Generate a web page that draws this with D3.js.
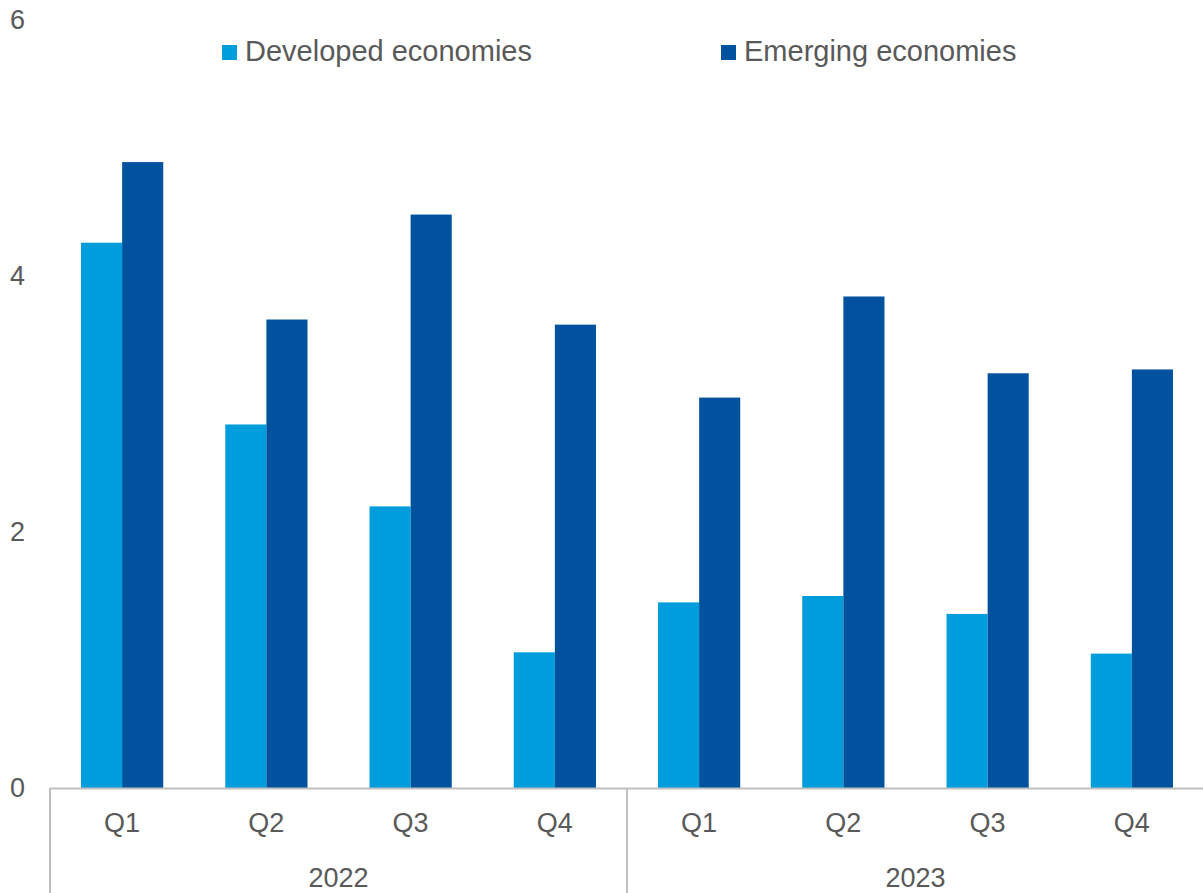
<!DOCTYPE html>
<html>
<head>
<meta charset="utf-8">
<script src="https://cdn.jsdelivr.net/npm/d3@7"></script>
<style>
  html, body { margin: 0; padding: 0; background: #ffffff; }
  svg { display: block; font-family: "Liberation Sans", Arial, sans-serif; }
</style>
</head>
<body>
<svg id="chart" width="1203" height="893"></svg>
<script>
// Quarterly values for each year
const years = ["2022", "2023"];
const quarters = ["Q1", "Q2", "Q3", "Q4"];
const seriesNames = ["Developed economies", "Emerging economies"];
const developed = [4.26, 2.84, 2.20, 1.06, 1.45, 1.50, 1.36, 1.05];
const emerging  = [4.89, 3.66, 4.48, 3.62, 3.05, 3.84, 3.24, 3.27];
const yTicks = [0, 2, 4, 6];
const colors = ["#009ddc", "#00529f"];

const textColor = "#595959";
const axisColor = "#bfbfbf";

// One row per year-quarter
const rows = [];
years.forEach((yr, yi) => quarters.forEach((q, qi) => {
  const i = yi * quarters.length + qi;
  rows.push({ key: yr + "-" + q, year: yr, quarter: q, values: [developed[i], emerging[i]] });
}));

const svg = d3.select("#chart");
const plotLeft = 50, plotRight = 1204, plotTop = 20, plotBottom = 788;

const x = d3.scaleBand()
  .domain(rows.map(d => d.key))
  .range([plotLeft, plotRight])
  .paddingInner(0.43)
  .paddingOuter(0.215);

const xs = d3.scaleBand()
  .domain(d3.range(seriesNames.length))
  .range([0, x.bandwidth()]);

const y = d3.scaleLinear().domain([0, 6]).range([plotBottom, plotTop]);

// Bars
const groups = svg.append("g").selectAll("g")
  .data(rows).join("g")
  .attr("transform", d => `translate(${x(d.key)},0)`);

groups.selectAll("rect")
  .data(d => d.values.map((v, i) => ({ v, i })))
  .join("rect")
  .attr("x", d => xs(d.i))
  .attr("width", xs.bandwidth())
  .attr("y", d => y(d.v))
  .attr("height", d => y(0) - y(d.v))
  .attr("fill", d => colors[d.i]);

// Y axis labels (no axis line)
svg.append("g").selectAll("text")
  .data(yTicks).join("text")
  .attr("x", 25)
  .attr("y", d => y(d))
  .attr("dy", "0.35em")
  .attr("text-anchor", "end")
  .attr("font-size", 27)
  .attr("fill", textColor)
  .text(d => d);

// X axis baseline
svg.append("line")
  .attr("x1", plotLeft).attr("x2", plotRight)
  .attr("y1", y(0) + 0.5).attr("y2", y(0) + 0.5)
  .attr("stroke", axisColor).attr("stroke-width", 2);

// Year separators
const yearEdges = years.map((yr, i) => x.range()[0] + i * quarters.length * x.step());
yearEdges.push(plotRight);
svg.append("g").selectAll("line")
  .data(yearEdges).join("line")
  .attr("x1", d => d).attr("x2", d => d)
  .attr("y1", y(0)).attr("y2", 893)
  .attr("stroke", axisColor).attr("stroke-width", 2);

// Quarter labels
svg.append("g").selectAll("text")
  .data(rows).join("text")
  .attr("x", d => x(d.key) + x.bandwidth() / 2)
  .attr("y", 832)
  .attr("text-anchor", "middle")
  .attr("font-size", 27)
  .attr("fill", textColor)
  .text(d => d.quarter);

// Year labels
svg.append("g").selectAll("text")
  .data(years).join("text")
  .attr("x", (d, i) => (yearEdges[i] + yearEdges[i + 1]) / 2)
  .attr("y", 887)
  .attr("text-anchor", "middle")
  .attr("font-size", 27)
  .attr("fill", textColor)
  .text(d => d);

// Legend
const legendX = [222, 721];
const legend = svg.append("g").selectAll("g")
  .data(seriesNames).join("g")
  .attr("transform", (d, i) => `translate(${legendX[i]},45)`);
legend.append("rect")
  .attr("width", 15).attr("height", 15)
  .attr("fill", (d, i) => colors[i]);
legend.append("text")
  .attr("x", 23).attr("y", 16)
  .attr("font-size", 29)
  .attr("fill", textColor)
  .text(d => d);
</script>
</body>
</html>
